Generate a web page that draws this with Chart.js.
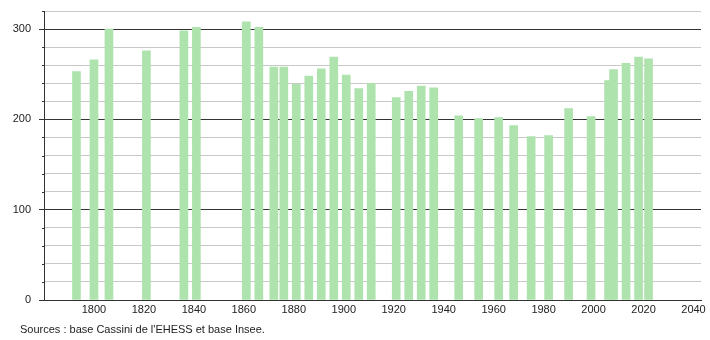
<!DOCTYPE html>
<html>
<head>
<meta charset="utf-8">
<script src="https://cdn.jsdelivr.net/npm/chart.js@4.4.1/dist/chart.umd.min.js"></script>
<style>
  html, body { margin: 0; padding: 0; background: #fff; }
  #wrap { position: relative; width: 710px; height: 340px; }
  #source {
    position: absolute; left: 20px; top: 323px;
    font: 11px "Liberation Sans", Arial, sans-serif; color: #222;
    white-space: nowrap;
  }
</style>
</head>
<body>
<div id="wrap">
  <canvas id="pop-chart" width="710" height="340"></canvas>
  <div id="source">Sources : base Cassini de l'EHESS et base Insee.</div>
</div>
<script>
// census years and population
const years = [1793, 1800, 1806, 1821, 1836, 1841, 1861, 1866, 1872, 1876, 1881, 1886,
  1891, 1896, 1901, 1906, 1911, 1921, 1926, 1931, 1936, 1946, 1954, 1962, 1968, 1975,
  1982, 1990, 1999, 2006, 2008, 2013, 2018, 2022];
const population = [253, 266, 300, 276, 298, 302, 308, 302, 258, 258, 239, 248,
  256, 269, 249, 234, 240, 224, 231, 237, 235, 204, 201, 202, 193, 181,
  182, 212, 203, 243, 255, 262, 269, 267];
const yTickLabels = [0, 100, 200, 300];
const xTickLabels = [1800, 1820, 1840, 1860, 1880, 1900, 1920, 1940, 1960, 1980, 2000, 2020, 2040];

const FONT = { family: "'Liberation Sans', Arial, sans-serif", size: 11 };

// short marks for the minor y ticks
const minorTicks = {
  id: "minorTicks",
  beforeDatasetsDraw(chart) {
    const y = chart.scales.y;
    const ctx = chart.ctx;
    ctx.save();
    ctx.strokeStyle = "#333";
    ctx.lineWidth = 1;
    y.ticks.forEach(function (t) {
      if (yTickLabels.includes(t.value)) return;
      const py = Math.round(y.getPixelForValue(t.value)) + 0.5;
      ctx.beginPath();
      ctx.moveTo(y.right - 2, py);
      ctx.lineTo(y.right, py);
      ctx.stroke();
    });
    ctx.restore();
  },
};

const ctx = document.getElementById("pop-chart").getContext("2d");
new Chart(ctx, {
  type: "bar",
  data: {
    datasets: [
      {
        data: years.map((yr, i) => ({ x: yr, y: population[i] })),
        backgroundColor: "#aee3ae",
        borderWidth: 0,
        barThickness: 8,
      },
    ],
  },
  options: {
    responsive: false,
    animation: false,
    layout: { padding: { left: 0, right: 9, top: 11, bottom: 0 } },
    plugins: {
      legend: { display: false },
      tooltip: { enabled: false },
    },
    scales: {
      x: {
        type: "linear",
        offset: false,
        min: 1780,
        max: 2043,
        afterFit: function (scale) { scale.height = 40; },
        ticks: {
          stepSize: 20,
          includeBounds: false,
          autoSkip: false,
          maxRotation: 0,
          padding: 3,
          color: "#222",
          font: FONT,
          callback: function (v) { return xTickLabels.includes(v) ? String(v) : ""; },
        },
        grid: { display: false, drawTicks: false, offset: false },
        border: { display: true, color: "#333", width: 1 },
      },
      y: {
        min: 0,
        max: 320,
        afterFit: function (scale) { scale.width = 44; },
        ticks: {
          stepSize: 20,
          autoSkip: false,
          padding: 8,
          color: "#222",
          font: { family: FONT.family, size: 11, lineHeight: 0.2 },
          callback: function (v) { return yTickLabels.includes(v) ? String(v) : ""; },
        },
        grid: {
          color: function (c) { return c.tick && c.tick.value % 100 === 0 ? "#333" : "#c8c8c8"; },
          tickColor: function (c) { return c.tick && c.tick.value % 100 === 0 ? "#333" : "rgba(0,0,0,0)"; },
          tickLength: 5,
          lineWidth: 1,
        },
        border: { display: true, color: "#333", width: 1 },
      },
    },
  },
  plugins: [minorTicks],
});
</script>
</body>
</html>
